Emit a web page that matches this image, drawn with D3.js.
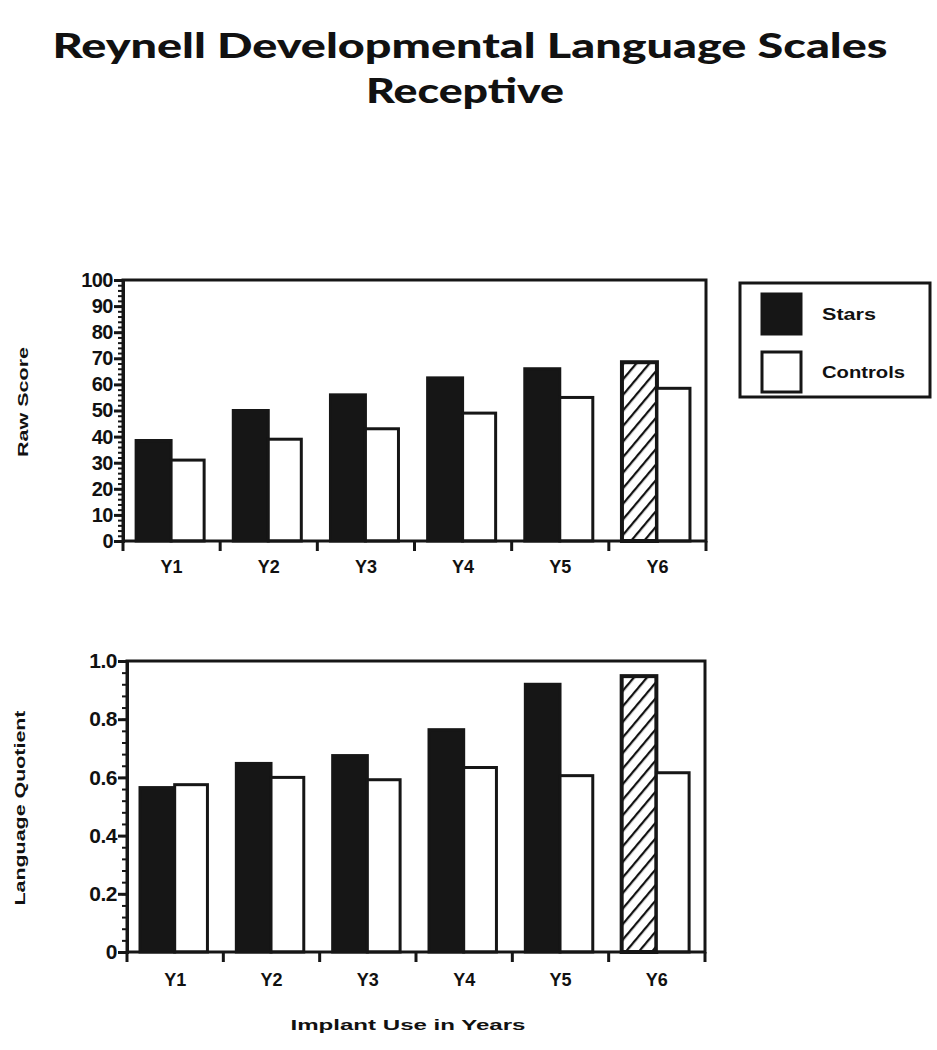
<!DOCTYPE html>
<html>
<head>
<meta charset="utf-8">
<script src="https://cdn.jsdelivr.net/npm/d3@7"></script>
<style>
  html, body { margin: 0; padding: 0; background: #fff; }
  text { font-family: "Liberation Sans", Arial, sans-serif; font-weight: bold; fill: #111; }
  .title { font-family: Lato, "Open Sans", sans-serif; font-weight: 900; }
</style>
</head>
<body>
<div class="chart"></div>
<script>
(function() {
  'use strict';

  const WIDTH = 937;
  const HEIGHT = 1050;

  // Data
  const YEARS = ['Y1', 'Y2', 'Y3', 'Y4', 'Y5', 'Y6'];
  const SERIES = ['Stars', 'Controls'];
  const RAW_STARS = [38.5, 50, 56, 62.5, 66, 68.5];
  const RAW_CONTROLS = [31, 39, 43, 49, 55, 58.5];
  const LQ_STARS = [0.565, 0.648, 0.675, 0.764, 0.92, 0.948];
  const LQ_CONTROLS = [0.575, 0.6, 0.592, 0.634, 0.606, 0.616];
  const RAW_TICKS = [0, 10, 20, 30, 40, 50, 60, 70, 80, 90, 100];
  const LQ_TICKS = [0, 0.2, 0.4, 0.6, 0.8, 1.0];
  const LQ_TICK_LABELS = ['0', '0.2', '0.4', '0.6', '0.8', '1.0'];

  const svg = d3.select('.chart')
    .append('svg')
    .attr('width', WIDTH)
    .attr('height', HEIGHT);

  // Hatch pattern for the last Stars bar
  svg.append('defs').append('pattern')
    .attr('id', 'hatch')
    .attr('patternUnits', 'userSpaceOnUse')
    .attr('width', 10)
    .attr('height', 10)
    .attr('patternTransform', 'rotate(40)')
    .append('line')
    .attr('x1', 0).attr('y1', 0)
    .attr('x2', 0).attr('y2', 10)
    .attr('stroke', '#111')
    .attr('stroke-width', 4.5);

  // Title
  svg.append('text')
    .attr('class', 'title')
    .attr('x', 470).attr('y', 58)
    .attr('text-anchor', 'middle')
    .attr('font-size', 34)
    .attr('textLength', 835)
    .attr('lengthAdjust', 'spacingAndGlyphs')
    .text('Reynell Developmental Language Scales');
  svg.append('text')
    .attr('class', 'title')
    .attr('x', 465).attr('y', 103)
    .attr('text-anchor', 'middle')
    .attr('font-size', 34)
    .attr('textLength', 198)
    .attr('lengthAdjust', 'spacingAndGlyphs')
    .text('Receptive');

  function draw_panel(opts) {
    const g = svg.append('g');
    const x = d3.scaleBand().domain(YEARS).range([opts.left, opts.right]);
    const y = d3.scaleLinear().domain([0, opts.max]).range([opts.bottom, opts.top]);
    const bw = x.bandwidth();

    // Bars: stars then controls in each band
    YEARS.forEach(function(yr, i) {
      const x0 = x(yr) + bw * 0.135;
      const wS = bw * 0.36;
      const wC = bw * 0.34;
      const last = i === YEARS.length - 1;
      g.append('rect')
        .attr('x', x0).attr('y', y(opts.stars[i]))
        .attr('width', wS).attr('height', y(0) - y(opts.stars[i]))
        .attr('fill', last ? 'url(#hatch)' : '#161616')
        .attr('stroke', '#161616').attr('stroke-width', last ? 4 : 3);
      g.append('rect')
        .attr('x', x0 + wS).attr('y', y(opts.controls[i]))
        .attr('width', wC).attr('height', y(0) - y(opts.controls[i]))
        .attr('fill', '#fff')
        .attr('stroke', '#161616').attr('stroke-width', 3);
    });

    // Frame
    g.append('rect')
      .attr('x', opts.left).attr('y', opts.top)
      .attr('width', opts.right - opts.left).attr('height', opts.bottom - opts.top)
      .attr('fill', 'none').attr('stroke', '#161616').attr('stroke-width', 3);

    // Minor y ticks
    const minor = d3.axisLeft(y).tickValues(d3.range(0, opts.max + 1e-9, opts.minor))
      .tickSize(5).tickFormat('');
    g.append('g').attr('transform', 'translate(' + opts.left + ',0)').call(minor)
      .call(function(a) { a.select('.domain').remove(); })
      .selectAll('line').attr('stroke', '#161616').attr('stroke-width', 2);

    // Major y ticks
    const yAxis = d3.axisLeft(y).tickValues(opts.ticks).tickSize(9).tickPadding(1)
      .tickFormat(function(d, i) { return opts.labels[i]; });
    const ya = g.append('g').attr('transform', 'translate(' + opts.left + ',0)').call(yAxis);
    ya.select('.domain').attr('stroke', '#161616').attr('stroke-width', 3);
    ya.selectAll('line').attr('stroke', '#161616').attr('stroke-width', 3);
    ya.attr('font-size', opts.yfs);
    ya.selectAll('text').attr('letter-spacing', -0.5)
      .style('font-family', '"Liberation Sans", Arial, sans-serif').style('font-weight', 'bold');

    // X axis: ticks at band boundaries
    const xa = g.append('g').attr('transform', 'translate(0,' + opts.bottom + ')');
    xa.call(d3.axisBottom(x).tickSize(0).tickPadding(opts.xpad));
    xa.select('.domain').remove();
    xa.attr('font-size', 18);
    xa.selectAll('text')
      .style('font-family', '"Liberation Sans", Arial, sans-serif').style('font-weight', 'bold');
    const bounds = YEARS.map(function(d) { return x(d); }).concat([opts.right]);
    xa.selectAll('.bound').data(bounds).enter().append('line')
      .attr('class', 'bound')
      .attr('x1', function(d) { return d; }).attr('x2', function(d) { return d; })
      .attr('y1', 0).attr('y2', 10)
      .attr('stroke', '#161616').attr('stroke-width', 3);

    // Y title
    g.append('text')
      .attr('transform', 'translate(' + opts.ylx + ',' + opts.ylc + ') rotate(-90)')
      .attr('text-anchor', 'middle')
      .attr('font-size', 14)
      .attr('textLength', opts.yllen)
      .attr('lengthAdjust', 'spacingAndGlyphs')
      .text(opts.ytitle);
  }

  draw_panel({
    left: 123, right: 706, top: 280, bottom: 541,
    max: 100, minor: 2, ticks: RAW_TICKS,
    labels: RAW_TICKS.map(String), yfs: 20,
    stars: RAW_STARS, controls: RAW_CONTROLS,
    ytitle: 'Raw Score', ylx: 28, ylc: 402, yllen: 110, xpad: 19
  });

  draw_panel({
    left: 127, right: 705, top: 661, bottom: 952,
    max: 1.0, minor: 0.04, ticks: LQ_TICKS,
    labels: LQ_TICK_LABELS, yfs: 21,
    stars: LQ_STARS, controls: LQ_CONTROLS,
    ytitle: 'Language Quotient', ylx: 25, ylc: 808, yllen: 195, xpad: 21
  });

  // X title
  svg.append('text')
    .attr('x', 408).attr('y', 1030)
    .attr('text-anchor', 'middle')
    .attr('font-size', 15)
    .attr('textLength', 235)
    .attr('lengthAdjust', 'spacingAndGlyphs')
    .text('Implant Use in Years');

  // Legend
  const lg = svg.append('g');
  lg.append('rect')
    .attr('x', 740).attr('y', 283).attr('width', 190).attr('height', 114)
    .attr('fill', 'none').attr('stroke', '#161616').attr('stroke-width', 3);
  SERIES.forEach(function(s, i) {
    const yy = 294 + i * 58;
    lg.append('rect')
      .attr('x', 762).attr('y', yy).attr('width', 39).attr('height', 40)
      .attr('fill', i === 0 ? '#161616' : '#fff')
      .attr('stroke', '#161616').attr('stroke-width', 3);
    lg.append('text')
      .attr('x', 822).attr('y', yy + 26)
      .attr('font-size', 16)
      .attr('textLength', i === 0 ? 54 : 83)
      .attr('lengthAdjust', 'spacingAndGlyphs')
      .text(s);
  });
})();
</script>
</body>
</html>
